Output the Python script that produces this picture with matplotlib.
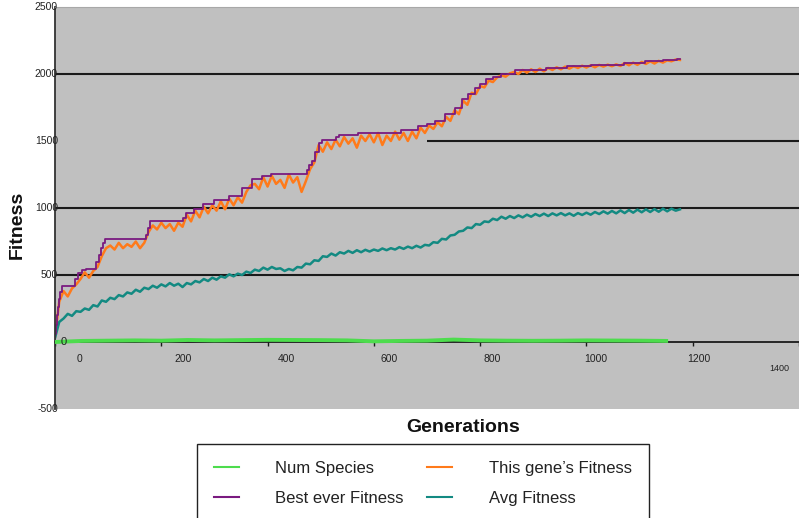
import matplotlib.pyplot as plt
import matplotlib.transforms as mtransforms
import numpy as np

plt.rcParams["font.family"] = ["Liberation Sans", "DejaVu Sans"]

# best ever fitness: step breakpoints (generation, value)
best_gen = [0, 2, 4, 6, 8, 10, 13, 37, 44, 50, 59, 78, 82, 86, 90, 94, 172, 175, 178,
            240, 247, 262, 278, 300, 328, 352, 371, 390, 406, 474, 478, 484, 490, 496,
            502, 528, 534, 571, 652, 683, 700, 715, 733, 752, 765, 778, 790, 800, 811,
            825, 840, 865, 924, 964, 1008, 1071, 1110, 1145, 1170, 1176]
best_val = [60, 130, 200, 260, 320, 370, 418, 470, 517, 537, 545, 600, 650, 700, 740, 766, 800, 850, 903,
            928, 965, 995, 1028, 1060, 1090, 1152, 1214, 1240, 1256, 1281, 1320, 1351, 1420, 1488,
            1505, 1530, 1545, 1562, 1580, 1612, 1625, 1649, 1699, 1749, 1811, 1850, 1898, 1925, 1961,
            1980, 1998, 2028, 2048, 2060, 2067, 2085, 2095, 2102, 2110, 2112]

# this gene's fitness, every 8 generations from 0 to 1176
gene_val = [40, 300, 380, 340, 400, 430, 470, 520, 480, 530, 560, 640, 700, 720, 690, 740,
            700, 730, 710, 750, 700, 740, 820, 870, 840, 890, 850, 880, 830, 890, 860, 950,
            900, 980, 930, 1010, 960, 1020, 980, 1050, 990, 1070, 1020, 1080, 1040, 1120, 1170, 1180,
            1140, 1230, 1160, 1240, 1180, 1210, 1150, 1250, 1190, 1230, 1120, 1200, 1290, 1340, 1470, 1420,
            1490, 1440, 1510, 1460, 1530, 1480, 1520, 1450, 1540, 1500, 1550, 1490, 1560, 1470, 1540, 1500,
            1570, 1510, 1560, 1500, 1570, 1520, 1600, 1560, 1615, 1590, 1640, 1610, 1680, 1650, 1730, 1700,
            1800, 1770, 1860, 1850, 1910, 1900, 1950, 1940, 1975, 1990, 1980, 2005, 2015, 2000, 2030, 2010,
            2035, 2015, 2040, 2020, 2045, 2030, 2050, 2035, 2055, 2040, 2058, 2045, 2062, 2048, 2065, 2050,
            2068, 2055, 2070, 2058, 2072, 2060, 2082, 2065, 2085, 2068, 2090, 2075, 2095, 2078, 2098, 2085,
            2102, 2095, 2108, 2105]

# average fitness, every 8 generations from 0 to 1176
avg_val = [30, 150, 175, 210, 195, 230, 225, 250, 240, 275, 265, 310, 300, 330, 320, 350,
           340, 370, 360, 390, 375, 405, 395, 420, 405, 430, 415, 440, 420, 435, 410, 440,
           430, 455, 445, 470, 455, 480, 465, 490, 480, 505, 490, 510, 500, 525, 515, 540,
           530, 555, 540, 560, 545, 550, 530, 545, 535, 560, 555, 585, 580, 610, 605, 640,
           635, 660, 645, 670, 660, 680, 665, 685, 670, 688, 675, 690, 680, 698, 685, 700,
           690, 708, 695, 712, 700, 718, 705, 725, 720, 745, 740, 770, 765, 795, 800, 825,
           830, 855, 850, 880, 875, 900, 895, 920, 910, 935, 920, 940, 925, 945, 930, 950,
           935, 955, 940, 958, 940, 960, 945, 962, 945, 960, 942, 962, 948, 965, 950, 970,
           955, 975, 958, 978, 960, 982, 962, 985, 965, 988, 968, 990, 970, 992, 972, 995,
           975, 995, 980, 990]

# number of species, every 50 generations
species_gen = [0, 50, 100, 150, 200, 250, 300, 350, 400, 450, 500, 550, 600, 650, 700,
               750, 800, 850, 900, 950, 1000, 1050, 1100, 1150]
species_val = [0, 8, 10, 12, 10, 15, 12, 14, 16, 15, 14, 12, 5, 8, 10, 18, 12, 10, 9, 10, 12, 11, 10, 8]

sample_gen = np.arange(0, 8 * len(gene_val), 8)

y_ticks = [2500, 2000, 1500, 1000, 500, -500]
x_ticks = [0, 200, 400, 600, 800, 1000, 1200, 1400]

fig = plt.figure(figsize=(7.99, 5.18), dpi=100)
ax = fig.add_axes([55 / 799, 1 - 409 / 518, 744 / 799, 402 / 518])
ax.set_facecolor("#c0c0c0")
ax.set_xlim(0, 1393)
ax.set_ylim(-500, 2500)

for level in [2000, 1000, 500]:
    ax.axhline(level, color="#1a1a1a", linewidth=1.5, zorder=1)
ax.hlines(1500, 700, 1420, color="#1a1a1a", linewidth=1.5, zorder=1)

l_gene, = ax.plot(sample_gen, gene_val, color="#ff7a1a", linewidth=1.8, label="This gene\u2019s Fitness", zorder=2)
l_best, = ax.plot(best_gen, best_val, color="#7a1a80", linewidth=1.3, drawstyle="steps-post",
                  label="Best ever Fitness", zorder=2.2)
l_avg, = ax.plot(sample_gen, avg_val, color="#138a82", linewidth=1.8, label="Avg Fitness", zorder=2)
l_spec, = ax.plot(species_gen, species_val, color="#4ddc4d", linewidth=2.8, label="Num Species", zorder=3)

ax.spines["right"].set_visible(False)
ax.spines["top"].set_color("#a8a8a8")
ax.spines["left"].set_color("#333333")
ax.spines["left"].set_linewidth(1.3)
ax.spines["bottom"].set_position(("data", 0))
ax.spines["bottom"].set_color("#1a1a1a")
ax.spines["bottom"].set_linewidth(1.3)
ax.spines["bottom"].set_zorder(1.5)

ax.set_xticks(x_ticks)
ax.set_xticklabels([])
ax.tick_params(axis="x", direction="out", length=3, width=1, color="#1a1a1a")
ax.set_yticks([])

# y labels sit just right of the axis, the 0 label inside the plot
ytrans = mtransforms.blended_transform_factory(ax.transAxes, ax.transData)
for v in y_ticks:
    ax.text(0.004, v, str(v), transform=ytrans, ha="right", va="center", fontsize=7.5, color="#222222")
ax.text(0.008, 0, "0", transform=ytrans, ha="left", va="center", fontsize=8, color="#222222")

# x labels drift right of their ticks like the original
for i, v in enumerate(x_ticks[:-1]):
    ax.text(47 + i * 194, -127, str(v), ha="center", va="center", fontsize=7.5, color="#222222")
ax.text(1363, -200, str(x_ticks[-1]), ha="center", va="center", fontsize=6.5, color="#222222")

fig.text(463 / 799, 1 - 427 / 518, "Generations", ha="center", va="center",
         fontsize=14, fontweight="bold", color="#111111")
fig.text(17 / 799, 1 - 225 / 518, "Fitness", ha="center", va="center", rotation=90,
         fontsize=14, fontweight="bold", color="#111111")

leg = fig.legend(handles=[l_spec, l_best, l_gene, l_avg], ncol=2, loc="upper left",
                 bbox_to_anchor=(197 / 799, 1 - 444 / 518), bbox_transform=fig.transFigure,
                 fontsize=12, frameon=True, fancybox=False, framealpha=1, edgecolor="#222222",
                 handlelength=1.5, handletextpad=2.2, columnspacing=1.4, borderpad=1.0,
                 labelspacing=0.9, borderaxespad=0)
leg.get_frame().set_linewidth(1.0)
for t in leg.get_texts():
    t.set_color("#222222")
for h in leg.legend_handles:
    h.set_linewidth(1.5)

fig.savefig("out.png", dpi=100)
